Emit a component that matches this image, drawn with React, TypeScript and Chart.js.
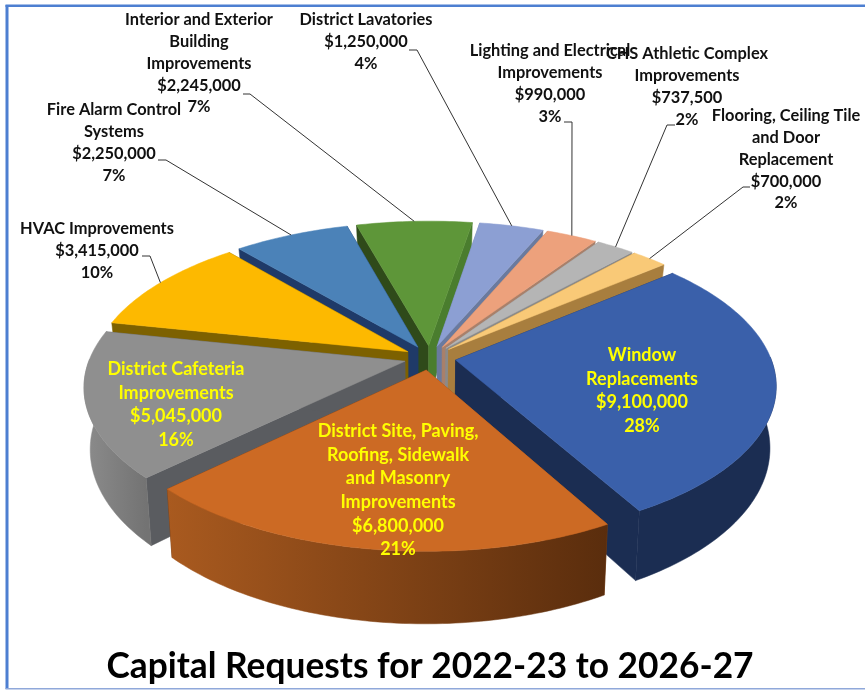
import React, { useEffect, useRef } from "react";
import { Chart, registerables } from "chart.js";

Chart.register(...registerables);

const categories: string[][] = [
  ["Window", "Replacements"],
  ["District Site, Paving,", "Roofing, Sidewalk", "and Masonry", "Improvements"],
  ["District Cafeteria", "Improvements"],
  ["HVAC Improvements"],
  ["Fire Alarm Control", "Systems"],
  ["Interior and Exterior", "Building", "Improvements"],
  ["District Lavatories"],
  ["Lighting and Electrical", "Improvements"],
  ["CHS Athletic Complex", "Improvements"],
  ["Flooring, Ceiling Tile", "and Door", "Replacement"],
];
const requests = [9100000, 6800000, 5045000, 3415000, 2250000, 2245000, 1250000, 990000, 737500, 700000];
const topColors = ["#3a60aa", "#cc6a24", "#8f8f8f", "#fdb900", "#4b82b8", "#5e9639", "#8c9fd3", "#eda17c", "#b5b5b5", "#f9c977"];
const wallColors = [
  ["#1b2d52", "#1b2d52"],
  ["#a95a1f", "#5a2d0d"],
  ["#8c8c8c", "#737373"],
  ["#7d6100", "#7d6100"],
  ["#1f3a68", "#1f3a68"],
  ["#2f4a1a", "#2f4a1a"],
  ["#6a7a9e", "#6a7a9e"],
  ["#b07a5c", "#b07a5c"],
  ["#8a8a8a", "#8a8a8a"],
  ["#a87e3e", "#a87e3e"],
];
const startFaces = ["#1b2d52", "#8a4a1a", "#5a5c60", "#7d6100", "#1f3a68", "#2f4a1a", "#6f84b0", "#a9806a", "#8a8a8a", "#a87e3e"];
const endFaces = ["#1b2d52", "#5a2d0d", "#5a5c60", "#7d6100", "#1f3a68", "#4a7d2e", "#6a7a9e", "#a9806a", "#8a8a8a", "#a87e3e"];
const labelCenters = [
  [642, 355], [398, 431], [176, 369], [97, 229], [114, 110],
  [199, 20], [366, 20], [550, 51], [687, 54], [786, 116],
];
const leaderStubs = [
  null, null, null,
  [142, 256, 150, 256],
  [158, 160, 166, 160],
  [243, 94, 250, 94],
  [409, 50, 417, 50],
  [564, 122, 572, 122],
  [675, 125, 667, 125],
  [750, 187, 743, 187],
];
const title = "Capital Requests for 2022-23 to 2026-27";
const FONT = "Lato, Carlito, Calibri, sans-serif";

const K = 0.47;
const P = 0.000506;
const H = 60;
const SHRINK = 0.018;

function projector(chart: any) {
  const arc0 = chart.getDatasetMeta(0).data[0];
  const cx = arc0.x;
  const cy = arc0.y;
  const R = arc0.outerRadius;
  return (U: number, V: number, lift: number) => {
    const D = 1 - P * V;
    const h = V < 0 ? H * (1 + (0.5 * V) / (R + 26)) : H;
    return [cx + (U / D) * (1 - SHRINK * lift), cy + (K * V) / D + (h * lift) / D];
  };
}

const pie3d = {
  id: "pie3d",
  beforeDraw(chart: any) {
    const { ctx, width, height } = chart;
    ctx.save();
    ctx.fillStyle = "#ffffff";
    ctx.fillRect(0, 0, width, height);
    ctx.fillStyle = "#4d7fd1";
    ctx.fillRect(5.5, 5, 3, height - 6);
    ctx.fillRect(5.5, 4.5, width, 2.5);
    ctx.fillStyle = "#8fa8da";
    ctx.fillRect(5.5, height - 2, width, 1.5);
    ctx.restore();
  },
  beforeDatasetsDraw(chart: any) {
    const { ctx } = chart;
    const arcs: any[] = chart.getDatasetMeta(0).data;
    const project = projector(chart);
    const order = arcs
      .map((a, i) => ({ a, i, mid: Math.sin((a.startAngle + a.endAngle) / 2) }))
      .sort((p, q) => p.mid - q.mid);

    for (const { a, i } of order) {
      const half = (a.startAngle + a.endAngle) / 2;
      const off = (a.options.offset || 0) / 4;
      const ou = Math.cos(half) * off;
      const ov = Math.sin(half) * off;
      const R = a.outerRadius;
      const n = Math.max(6, Math.ceil(((a.endAngle - a.startAngle) * 180) / Math.PI));
      const angle = (t: number) => a.startAngle + ((a.endAngle - a.startAngle) * t) / n;
      const rim = (t: number, lift: number) => {
        const ang = angle(t);
        return project(ou + R * Math.cos(ang), ov + R * Math.sin(ang), lift);
      };
      const poly = (pts: number[][], fill: any) => {
        ctx.beginPath();
        pts.forEach((p, j) => (j ? ctx.lineTo(p[0], p[1]) : ctx.moveTo(p[0], p[1])));
        ctx.closePath();
        ctx.fillStyle = fill;
        ctx.fill();
        ctx.strokeStyle = fill;
        ctx.lineWidth = 0.5;
        ctx.stroke();
      };
      const apex0 = project(ou, ov, 0);
      const apex1 = project(ou, ov, 1);
      poly([apex0, rim(0, 0), rim(0, 1), apex1], startFaces[i]);
      poly([apex0, rim(n, 0), rim(n, 1), apex1], endFaces[i]);
      const visible: number[] = [];
      for (let t = 0; t <= n; t++) if (Math.sin(angle(t)) > -0.02) visible.push(t);
      if (visible.length > 1) {
        const upper = visible.map((t) => rim(t, 0));
        const lower = visible.map((t) => rim(t, 1)).reverse();
        const xs = upper.map((p) => p[0]);
        const g = ctx.createLinearGradient(Math.min(...xs), 0, Math.max(...xs), 0);
        g.addColorStop(0, wallColors[i][0]);
        g.addColorStop(1, wallColors[i][1]);
        poly([...upper, ...lower], g);
      }
      const top: number[][] = [apex0];
      for (let t = 0; t <= n; t++) top.push(rim(t, 0));
      poly(top, a.options.backgroundColor);
    }
    return false;
  },
  afterDraw(chart: any) {
    const { ctx } = chart;
    const arcs: any[] = chart.getDatasetMeta(0).data;
    const project = projector(chart);
    const total = requests.reduce((s, v) => s + v, 0);
    ctx.save();
    ctx.strokeStyle = "#333333";
    ctx.lineWidth = 1;
    leaderStubs.forEach((s, i) => {
      if (!s) return;
      const a = arcs[i];
      const half = (a.startAngle + a.endAngle) / 2;
      const r = a.outerRadius + (a.options.offset || 0) / 4;
      const end = project(r * Math.cos(half), r * Math.sin(half), 0);
      ctx.beginPath();
      ctx.moveTo(s[0], s[1]);
      ctx.lineTo(s[2], s[3]);
      ctx.lineTo(end[0], end[1]);
      ctx.stroke();
    });
    ctx.textAlign = "center";
    ctx.textBaseline = "middle";
    categories.forEach((lines, i) => {
      const inside = i < 3;
      const all = [...lines, "$" + requests[i].toLocaleString("en-US"), Math.round((requests[i] / total) * 100) + "%"];
      ctx.font = `bold ${inside ? 18 : 16.4}px ${FONT}`;
      ctx.fillStyle = inside ? "#ffff00" : "#111111";
      const step = inside ? 23.7 : 21.8;
      all.forEach((t, j) => ctx.fillText(t, labelCenters[i][0], labelCenters[i][1] + j * step));
    });
    ctx.restore();
  },
};

export default function App() {
  const ref = useRef<HTMLCanvasElement>(null);
  useEffect(() => {
    const chart = new Chart(ref.current!, {
      type: "doughnut",
      data: {
        labels: categories.map((c) => c.join(" ")),
        datasets: [{ data: requests, backgroundColor: topColors, borderWidth: 0, offset: 104 }],
      },
      options: {
        responsive: false,
        animation: false,
        rotation: 50,
        cutout: 0,
        radius: 315,
        layout: { padding: { top: 74, right: 5, bottom: 0, left: 0 } },
        plugins: {
          legend: { display: false },
          tooltip: { enabled: false },
          title: {
            display: true,
            position: "bottom",
            text: title,
            color: "#000000",
            font: { family: FONT, size: 35.3, weight: "bold" },
            padding: { top: 4, bottom: 2 },
          },
        },
      } as any,
      plugins: [pie3d as any],
    });
    return () => chart.destroy();
  }, []);
  return (
    <canvas
      ref={ref}
      width={865}
      height={690}
      style={{ position: "absolute", left: 0, top: 0, width: 865, height: 690, display: "block" }}
    />
  );
}
